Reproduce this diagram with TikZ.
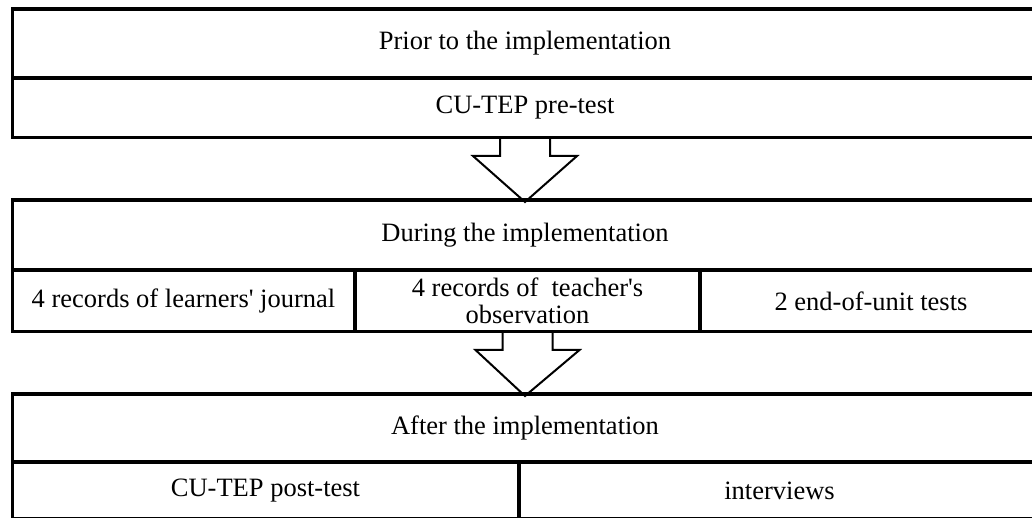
\documentclass[tikz,border=0pt]{standalone}
\usepackage{fontspec}
\setmainfont{Liberation Serif}
\usetikzlibrary{calc}

\begin{document}
\begin{tikzpicture}[x=1pt,y=1pt,
  cell/.style={draw, line width=2pt, inner sep=0pt, anchor=north west, align=center,
    font=\fontsize{26.5}{27}\selectfont},
  frame/.style={line width=3pt},
  bigarrow/.style={line width=2pt, line join=miter}]
\clip (0,0) rectangle (1032,518);
\def\fullwidth{1024pt};

% prior to the implementation
\node[cell, minimum width=\fullwidth, minimum height=67pt] (prior) at (12,509) {Prior to the implementation};
\node[cell, minimum width=\fullwidth, minimum height=58pt] (pretest) at (prior.south west) {CU-TEP pre-test};
\draw[frame] (prior.north west) rectangle (pretest.south east);

% during the implementation
\node[cell, minimum width=\fullwidth, minimum height=68pt] (during) at (12,318) {During the implementation};
\node[cell, minimum width=341pt, minimum height=60pt] (journal) at (during.south west) {4 records of learners\textquotesingle{} journal};
\node[cell, minimum width=343pt, minimum height=60pt] (observe) at (journal.north east) {4 records of\ \ teacher\textquotesingle{}s\\observation};
\node[cell, minimum width=340pt, minimum height=60pt] (unittest) at (observe.north east) {2 end-of-unit tests};
\draw[frame] (during.north west) rectangle (unittest.south east);

% after the implementation
\node[cell, minimum width=\fullwidth, minimum height=66pt] (after) at (12,124) {After the implementation};
\node[cell, minimum width=505pt, minimum height=55pt] (posttest) at (after.south west) {CU-TEP post-test};
\node[cell, minimum width=519pt, minimum height=55pt] (interview) at (posttest.north east) {interviews};
\draw[frame] (after.north west) rectangle (interview.south east);

% block arrows between the stages
\foreach \a/\b in {pretest/during, observe/after}{
  \draw[bigarrow] ($(\a.south)+(-25,0)$) -- ++(0,-18) -- ++(-27,0) -- ($(\b.north)+(0,-2)$)
    -- ($(\a.south)+(52,-18)$) -- ++(-27,0) -- ++(0,18);
}
\end{tikzpicture}
\end{document}
